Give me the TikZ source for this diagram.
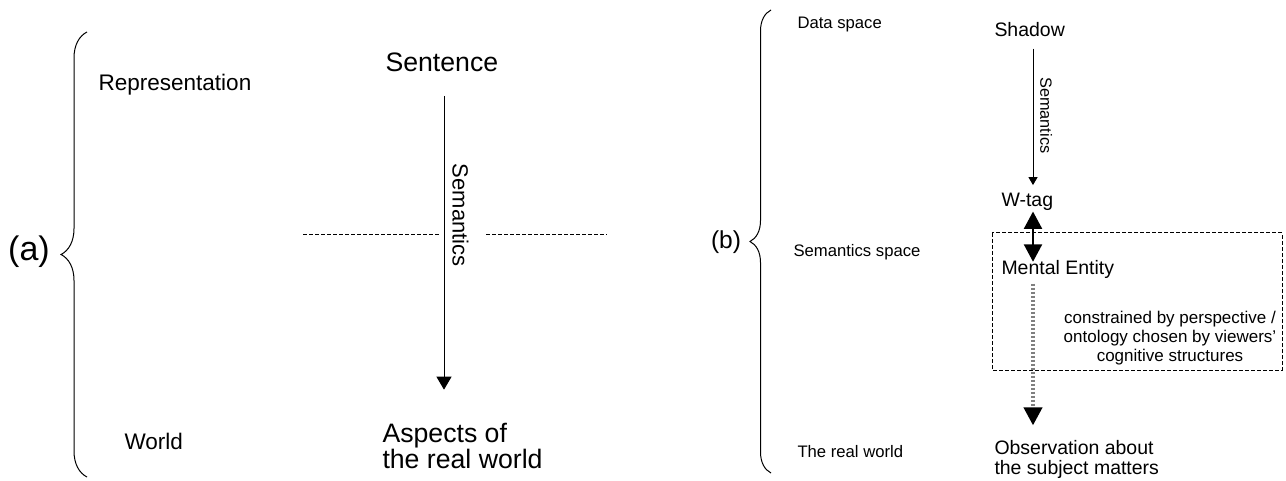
\documentclass[tikz,border=0pt]{standalone}
\usepackage{fontspec}
\setmainfont{Liberation Sans}
\usetikzlibrary{arrows.meta, positioning, decorations.pathreplacing}
\newcommand{\fsz}[2]{\fontsize{#1}{#2}\selectfont}

\begin{document}
\begin{tikzpicture}[x=0.75pt, y=-0.75pt, line width=0.75pt,
  tag/.style={inner sep=0pt},
  lvl/.style={anchor=base west, inner sep=0pt, font=\fsz{16.9}{20}},
  lvlb/.style={anchor=base west, inner sep=0pt, font=\fsz{12.5}{15}},
  bigtext/.style={anchor=base west, inner sep=0pt, align=left, font=\fsz{20}{19.5}},
  btext/.style={anchor=base west, inner sep=0pt, align=left, font=\fsz{14.6}{15}},
  bracket/.style={decorate, decoration={brace, amplitude=#1}},
  semarrow/.style={-{Triangle[length=9.75pt, width=11.25pt]}},
  smallarrow/.style={-{Triangle[length=6pt, width=6.75pt]}},
  linkarrow/.style={line width=1.5pt, {Triangle[length=13pt, width=13.5pt]}-{Triangle[length=13pt, width=13.5pt]}},
  viewarrow/.style={line width=3pt, gray, dash pattern=on 1.5pt off 1.5pt,
    -{Triangle[length=13.5pt, width=13.5pt, color=black]}},
  divider/.style={dash pattern=on 3pt off 1.5pt},
]
\useasboundingbox (0,0) rectangle (1286,481);

% (a)
\node[tag, font=\fsz{25.5}{30}] (labela) at (29,252) {(a)};
\draw[bracket=19.5pt] (87,477) -- (87,32);
\node[lvl] (repr) at (98,91) {Representation};
\node[lvl] (world) at (124,449) {World};
\node[bigtext] (sentence) at (385,72) {Sentence};
\node[bigtext] (aspects) at (382,468) {Aspects of\\the real world};
\coordinate (aaxis) at (444,0);
\draw[semarrow, shorten <=17.25pt, shorten >=24.4pt] (sentence.south -| aaxis) --
  node[pos=0.408, rotate=-90, anchor=south, inner sep=6pt, font=\fsz{16.5}{20}] (sema) {Semantics}
  (aspects.north -| aaxis);
\draw[divider] (303,235) -- (440,235) (486,235) -- (607,235);

% (b)
\node[tag, font=\fsz{18.4}{22}] (labelb) at (726,242) {(b)};
\draw[bracket=15.75pt] (771,473) -- (771,10);
\node[lvlb] (dataspace) at (797,29) {Data space};
\node[lvlb] (semspace) at (793,257) {Semantics space};
\node[lvlb] (realworld) at (797,457) {The real world};
\node[btext] (shadow) at (994,37) {Shadow};
\node[btext] (wtag) at (1001,207) {W-tag};
\node[btext] (mental) at (1001,275) {Mental Entity};
\node[btext] (observ) at (994,474) {Observation about\\the subject matters};
\coordinate (baxis) at (1033,0);
\draw[smallarrow, shorten <=8.25pt, shorten >=6pt] (shadow.south -| baxis) --
  node[pos=0.5, rotate=-90, anchor=south, inner sep=5pt, font=\fsz{12.2}{15}] (semb) {Semantics}
  (wtag.north -| baxis);
\draw[linkarrow, shorten <=0pt, shorten >=-1pt] (wtag.south -| baxis) -- (mental.north -| baxis);
\draw[divider] (992,233) rectangle (1282,370);
\node[align=center, font=\fsz{12.75}{14.25}] (persp) at (1170,338)
  {constrained by perspective /\\ontology chosen by viewers'\\cognitive structures};
\draw[viewarrow, shorten <=3pt, shorten >=10.5pt] (mental.south -| baxis) -- (observ.north -| baxis);
\end{tikzpicture}
\end{document}
